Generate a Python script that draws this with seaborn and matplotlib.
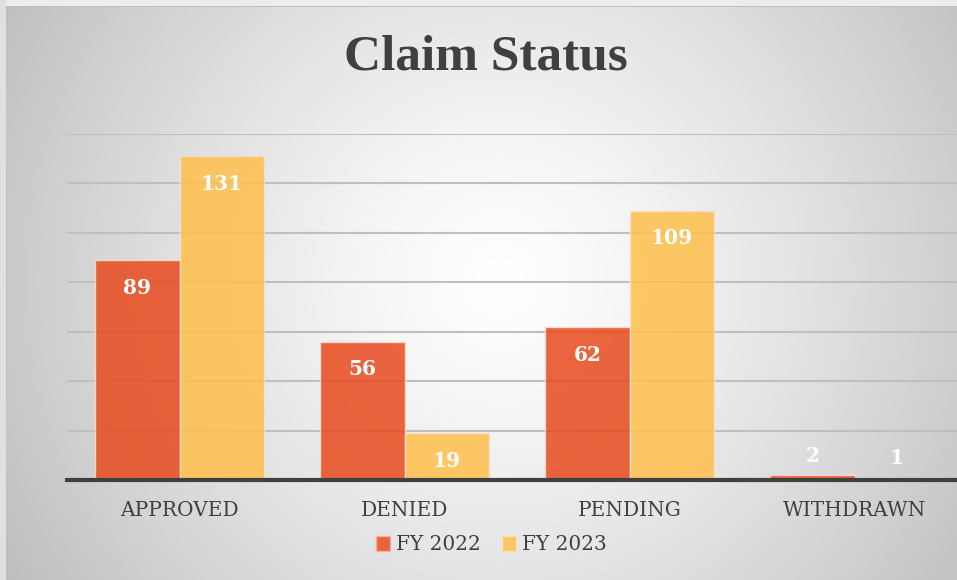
import numpy as np
import pandas as pd
import matplotlib
matplotlib.use("Agg")
import matplotlib.pyplot as plt
import seaborn as sns
from matplotlib.patches import Patch

categories = ["APPROVED", "DENIED", "PENDING", "WITHDRAWN"]
series = ["FY 2022", "FY 2023"]
fy2022 = [89, 56, 62, 2]
fy2023 = [131, 19, 109, 1]
yticks = [0, 20, 40, 60, 80, 100, 120, 140]

df = pd.DataFrame({
    "Status": categories * 2,
    "Year": [series[0]] * 4 + [series[1]] * 4,
    "Count": fy2022 + fy2023,
})

sns.set_theme(style="white")
plt.rcParams["font.family"] = ["DejaVu Serif"]

W, H = 957, 580
fig = plt.figure(figsize=(W / 100, H / 100), dpi=100)

# background radial gradient
bg = fig.add_axes([0, 0, 1, 1])
yy, xx = np.mgrid[0:H, 0:W]
d = np.sqrt((xx - 500) ** 2 + (yy - 280) ** 2) / 570.0
v = 255 - 64 * np.clip(d, 0, 1.2) ** 1.3
img = np.dstack([v, v, v]) / 255.0
img[:6, :, :] = 0.93
img[:, :6, :] = 0.88
img[6, 6:, :] = 0.75
img[6:, 6, :] = 0.75
bg.imshow(np.clip(img, 0, 1), aspect="auto", extent=[0, 1, 0, 1], origin="upper")
bg.set_axis_off()

ax = fig.add_axes([67 / W, 100 / H, 900 / W, 346 / H])
ax.set_facecolor("none")
palette = {"FY 2022": "#E84B1E", "FY 2023": "#FFBF4B"}
sns.barplot(data=df, x="Status", y="Count", hue="Year", order=categories,
            hue_order=series, palette=palette, width=0.75, alpha=0.85,
            edgecolor="#f8e0d0", linewidth=1.0, saturation=1, ax=ax,
            legend=False, zorder=3)
ax.set_ylim(0, 140)
ax.set_xlim(-0.5, 3.5)
ax.set_yticks(yticks)
ax.set_yticklabels([])
ax.yaxis.grid(True, color="#bfbfbf", linewidth=1.5, zorder=0)
ax.set_axisbelow(True)
for s in ["top", "right", "left"]:
    ax.spines[s].set_visible(False)
ax.spines["bottom"].set_color("#404040")
ax.spines["bottom"].set_linewidth(3)
ax.spines["bottom"].set_zorder(5)
ax.tick_params(axis="both", length=0)
ax.tick_params(axis="x", pad=15, labelsize=14.5, labelcolor="#404040")
ax.tick_params(axis="y", left=False)
ax.set_xlabel("")
ax.set_ylabel("")

for cont in ax.containers:
    for bar in cont:
        h = bar.get_height()
        xc = bar.get_x() + bar.get_width() / 2
        if h >= 10:
            off = -20
        else:
            off = 14
        ax.annotate(f"{int(round(h))}", (xc, h), xytext=(0, off),
                    textcoords="offset points", ha="center", va="center",
                    color="white", fontsize=14.5, fontweight="bold",
                    family="DejaVu Serif", zorder=6)

fig.text(486 / W, 1 - 58 / H, "Claim Status", ha="center", va="center",
         fontsize=37, fontweight="bold", color="#404040",
         family="Liberation Serif")

handles = [Patch(facecolor="#E8633D", edgecolor="#f0b0a0"),
           Patch(facecolor="#FCC462", edgecolor="#fde0b0")]
fig.legend(handles, series, loc="center", bbox_to_anchor=(491 / W, 1 - 545 / H),
           ncol=2, frameon=False, fontsize=14.5, handlelength=0.7, handleheight=0.7,
           handletextpad=0.3, columnspacing=1.05, labelcolor="#404040")

fig.savefig("out.png", dpi=100)
